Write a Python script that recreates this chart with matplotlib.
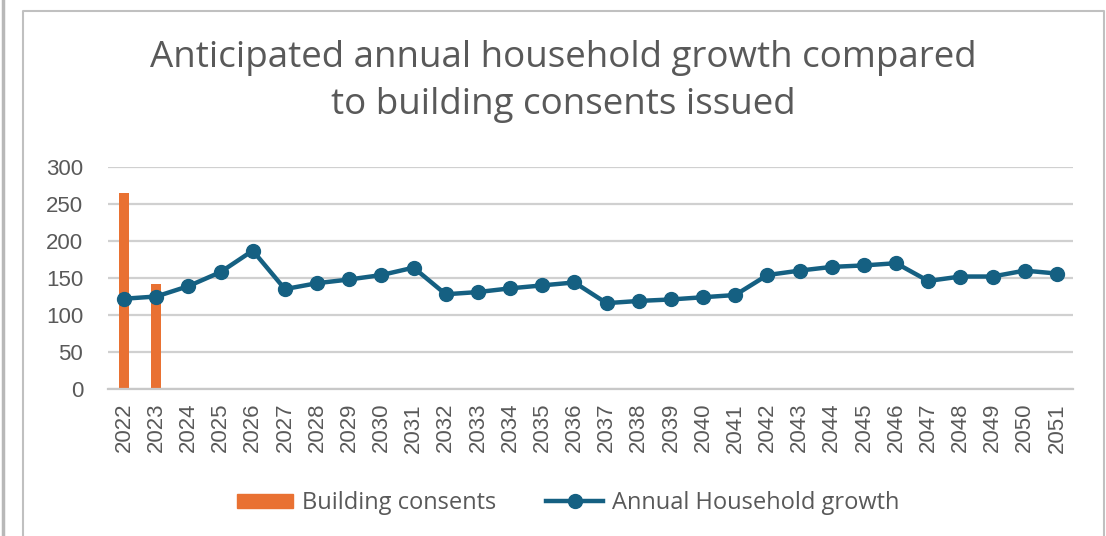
import matplotlib
matplotlib.use('Agg')
import matplotlib.pyplot as plt
from matplotlib.lines import Line2D
from matplotlib.patches import Patch

# Years on the category axis
years = [str(y) for y in range(2022, 2052)]

# Building consents issued (only two years available)
consents = [265, 142]

# Anticipated annual household growth
growth = [122, 125, 139, 158, 187, 135, 143, 148, 154, 164,
          128, 131, 136, 140, 144, 116, 119, 121, 124, 127,
          154, 160, 165, 167, 170, 146, 152, 152, 160, 156]

orange = '#E97132'
teal = '#156082'
text_grey = '#595959'

W, H = 1106, 536
fig = plt.figure(figsize=(W / 100, H / 100), dpi=100)

# Frame lines around the chart
fig.add_artist(Line2D([3 / W, 3 / W], [0, 1], color='#b8b8b8', lw=2.5))
fig.add_artist(Line2D([23 / W, 23 / W, 1104 / W, 1104 / W],
                      [0, 1 - 11 / H, 1 - 11 / H, 0], color='#c0c0c0', lw=1.5))

ax = fig.add_axes([108 / W, 1 - 389 / H, (1073 - 108) / W, (389 - 167) / H])

x = list(range(len(years)))
ax.bar(x[:len(consents)], consents, width=0.31, color=orange, zorder=2)
ax.plot(x, growth, color=teal, lw=3.2, marker='o', markersize=10, zorder=3)

ax.set_xlim(-0.5, len(years) - 0.5)
ax.set_ylim(0, 300)
ax.set_yticks(range(0, 301, 50))
ax.set_xticks(x)
ax.set_xticklabels(years, rotation=90, fontsize=16, color=text_grey,
                   family='Liberation Sans')
for lab in ax.get_yticklabels():
    lab.set_fontsize(16)
    lab.set_color(text_grey)
    lab.set_family('Liberation Sans')
ax.tick_params(axis='both', length=0)
ax.tick_params(axis='y', pad=18)
ax.tick_params(axis='x', pad=10)

ax.grid(axis='y', color='#d0d0d0', lw=1.6, zorder=0)
for side in ['top', 'right', 'left']:
    ax.spines[side].set_visible(False)
ax.spines['bottom'].set_color('#c8c8c8')
ax.spines['bottom'].set_linewidth(1.6)

# Title
fig.text(563 / W, 1 - 58 / H, 'Anticipated annual household growth compared',
         ha='center', va='center', fontsize=26.5, color=text_grey, family='Open Sans')
fig.text(563 / W, 1 - 105 / H, 'to building consents issued',
         ha='center', va='center', fontsize=26.5, color=text_grey, family='Open Sans')

# Legend
handles = [Patch(facecolor=orange, edgecolor=orange),
           Line2D([], [], color=teal, lw=3.2, marker='o', markersize=10)]
fig.legend(handles, ['Building consents', 'Annual Household growth'],
           loc='center', bbox_to_anchor=(568 / W, 1 - 503 / H), ncol=2,
           frameon=False, prop={'family': 'Open Sans', 'size': 17},
           labelcolor=text_grey, handlelength=2.4, handleheight=0.55,
           columnspacing=2.1, handletextpad=0.38)

fig.savefig('out.png', dpi=100)
